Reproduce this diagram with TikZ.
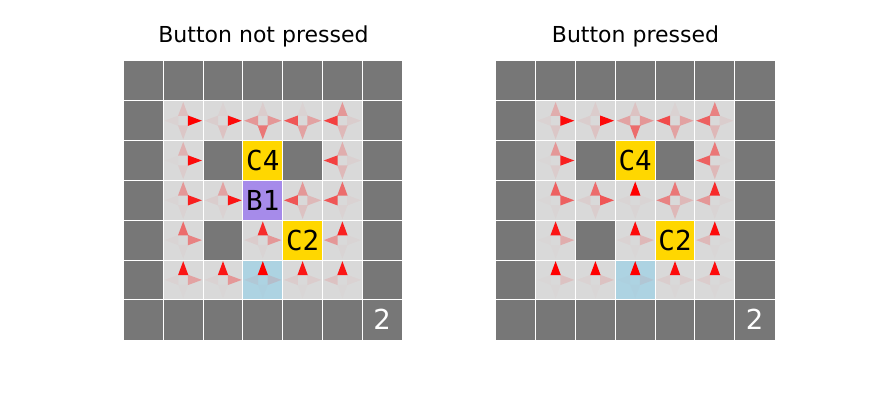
\documentclass[tikz,border=0pt]{standalone}
\usepackage{fontspec}
\setmainfont{DejaVu Sans}
\newfontfamily\monofnt{DejaVu Sans Mono}
\definecolor{wallc}{HTML}{777777}
\definecolor{floorc}{HTML}{D9D9D9}
\definecolor{goldc}{HTML}{FFD700}
\definecolor{purpc}{HTML}{A68BEA}
\definecolor{bluec}{HTML}{ADD3E2}
\tikzset{
  wallcell/.style={fill=wallc},
  floorcell/.style={fill=floorc},
  gridline/.style={draw=white, line width=1pt},
  celllabel/.style={font=\monofnt\fontsize{27.5}{30}\selectfont, text=black, inner sep=0pt},
  numlabel/.style={font=\fontsize{27.5}{30}\selectfont, text=white, inner sep=0pt},
  titlelabel/.style={font=\fontsize{22}{26}\selectfont, text=black, inner sep=0pt, anchor=base},
  arrowtri/.style={fill=red, draw=none}
}
\newcommand\arrowset[6]{%
  \fill[arrowtri, fill opacity=#3] (#2+0.37,#1+0.38) -- (#2+0.5,#1+0.03) -- (#2+0.63,#1+0.38) -- cycle;
  \fill[arrowtri, fill opacity=#4] (#2+0.62,#1+0.37) -- (#2+0.97,#1+0.5) -- (#2+0.62,#1+0.63) -- cycle;
  \fill[arrowtri, fill opacity=#5] (#2+0.37,#1+0.62) -- (#2+0.5,#1+0.97) -- (#2+0.63,#1+0.62) -- cycle;
  \fill[arrowtri, fill opacity=#6] (#2+0.38,#1+0.37) -- (#2+0.03,#1+0.5) -- (#2+0.38,#1+0.63) -- cycle;
}
\begin{document}
\begin{tikzpicture}[x=1pt,y=-1pt]
\useasboundingbox (0,0) rectangle (880,400);
\fill[white] (0,0) rectangle (880,400);
\node[titlelabel] (t1) at (263.5,42) {Button not pressed};
\node[titlelabel] (t2) at (635.5,42) {Button pressed};

% ---------------- left grid ----------------
\begin{scope}[shift={(123.5pt,-61pt)}, x=39.8pt, y=-39.8pt]
  \fill[wallcell] (0,0) rectangle (7,7);
  \fill[floorcell] (1,1) rectangle (6,6);
  \fill[wallcell] (2,2) rectangle (3,3);
  \fill[wallcell] (4,2) rectangle (5,3);
  \fill[wallcell] (2,4) rectangle (3,5);
  \fill[goldc] (3,2) rectangle (4,3);
  \fill[purpc] (3,3) rectangle (4,4);
  \fill[goldc] (4,4) rectangle (5,5);
  \fill[bluec] (3,5) rectangle (4,6);
  \foreach \r/\c/\u/\ri/\d/\l in {
    1/1/0.12/1/0.08/0.03, 1/2/0.03/0.95/0.1/0.05, 1/3/0.06/0.3/0.45/0.3,
    1/4/0.03/0.25/0.25/0.6, 1/5/0.3/0.05/0.15/0.7,
    2/1/0.18/0.95/0.06/0.01, 2/5/0.2/0.04/0.15/0.7,
    3/1/0.3/0.85/0.03/0.02, 3/2/0.25/0.9/0.03/0.05, 3/4/0.3/0.15/0.1/0.6,
    3/5/0.5/0.03/0.03/0.6,
    4/1/0.5/0.4/0.02/0.02, 4/3/0.8/0.3/0.02/0.06, 4/5/0.85/0.02/0.02/0.3,
    5/1/0.9/0.25/0.01/0.03, 5/2/0.9/0.3/0.01/0.03, 5/3/1/0.1/0.01/0.05,
    5/4/0.9/0.06/0.01/0.06, 5/5/0.9/0.03/0.01/0.1}{
    \arrowset{\r}{\c}{\u}{\ri}{\d}{\l}
  }
  \foreach \i in {1,...,6}{
    \draw[gridline] (\i,0) -- (\i,7);
    \draw[gridline] (0,\i) -- (7,\i);
  }
  \node[celllabel] (lc4) at (3.5,2.5) {C4};
  \node[celllabel] (lb1) at (3.5,3.5) {B1};
  \node[celllabel] (lc2) at (4.5,4.5) {C2};
  \node[numlabel] (ln) at (6.5,6.5) {2};
\end{scope}

% ---------------- right grid ----------------
\begin{scope}[shift={(495.9pt,-61pt)}, x=39.8pt, y=-39.8pt]
  \fill[wallcell] (0,0) rectangle (7,7);
  \fill[floorcell] (1,1) rectangle (6,6);
  \fill[wallcell] (2,2) rectangle (3,3);
  \fill[wallcell] (4,2) rectangle (5,3);
  \fill[wallcell] (2,4) rectangle (3,5);
  \fill[goldc] (3,2) rectangle (4,3);
  \fill[goldc] (4,4) rectangle (5,5);
  \fill[bluec] (3,5) rectangle (4,6);
  \foreach \r/\c/\u/\ri/\d/\l in {
    1/1/0.2/0.95/0.08/0.03, 1/2/0.06/0.95/0.1/0.05, 1/3/0.1/0.3/0.5/0.25,
    1/4/0.03/0.25/0.25/0.65, 1/5/0.4/0.05/0.15/0.55,
    2/1/0.3/0.85/0.06/0.01, 2/5/0.45/0.01/0.15/0.55,
    3/1/0.55/0.55/0.02/0.01, 3/2/0.5/0.6/0.05/0.05, 3/3/1/0.02/0.02/0.02,
    3/4/0.45/0.15/0.15/0.4, 3/5/0.8/0.02/0.02/0.3,
    4/1/0.9/0.2/0.01/0.01, 4/3/0.95/0.15/0.01/0.03, 4/5/0.95/0.01/0.01/0.15,
    5/1/1/0.1/0.01/0.01, 5/2/1/0.1/0.01/0.03, 5/3/1/0.06/0.01/0.01,
    5/4/0.95/0.05/0.01/0.05, 5/5/0.95/0.02/0.01/0.06}{
    \arrowset{\r}{\c}{\u}{\ri}{\d}{\l}
  }
  \foreach \i in {1,...,6}{
    \draw[gridline] (\i,0) -- (\i,7);
    \draw[gridline] (0,\i) -- (7,\i);
  }
  \node[celllabel] (rc4) at (3.5,2.5) {C4};
  \node[celllabel] (rc2) at (4.5,4.5) {C2};
  \node[numlabel] (rn) at (6.5,6.5) {2};
\end{scope}
\end{tikzpicture}
\end{document}
